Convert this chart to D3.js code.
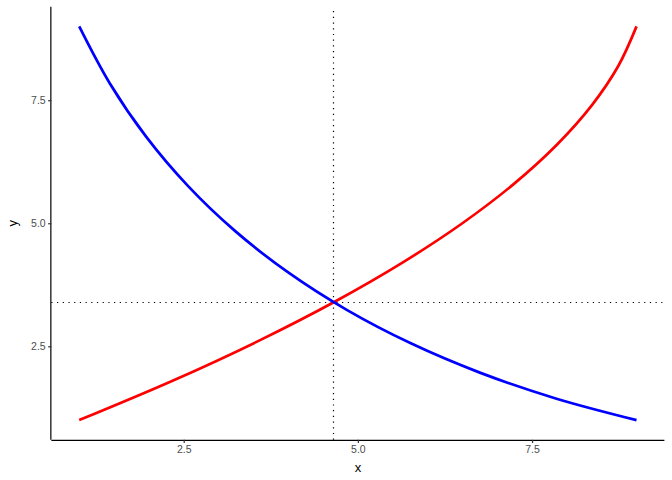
<!DOCTYPE html>
<html>
<head>
<meta charset="utf-8">
<script src="https://cdn.jsdelivr.net/npm/d3@7"></script>
<style>
    body { margin: 0; background: #fff; }
    svg { display: block; font-family: "Liberation Sans", Arial, sans-serif; }
    .axis path.domain { stroke: #000; stroke-width: 1.2px; }
    .axis .tick line { stroke: #333; stroke-width: 1.2px; }
    .axis .tick text { fill: #4d4d4d; font-size: 10.5px; }
    .curve { fill: none; stroke-width: 2.7px; stroke-linejoin: round; }
    .guide { stroke: #000; stroke-width: 1.2px; stroke-dasharray: 1.2, 4.5; }
</style>
</head>
<body>
<div id="chart"></div>
<script>

// supply curve (red)
var supplyX = [1, 2.34, 3.56, 4.66, 5.64, 6.5, 7.24, 7.86, 8.36, 8.74, 9];
var supplyY = [1, 1.8, 2.6, 3.4, 4.2, 5.0, 5.8, 6.6, 7.4, 8.2, 9];

// demand curve (blue)
var demandX = [1, 1.44, 1.96, 2.56, 3.24, 4, 4.84, 5.76, 6.76, 7.84, 9];
var demandY = [9, 7.84, 6.76, 5.76, 4.84, 4, 3.24, 2.56, 1.96, 1.44, 1];

// where the two meet
var crossX = 4.65;
var crossY = 3.39;

var xTicks = [2.5, 5.0, 7.5];
var yTicks = [2.5, 5.0, 7.5];

var width = 672,
    height = 480;

var margin = {top: 6.7, right: 7.6, bottom: 40.2, left: 51.35};

var xScale = d3.scaleLinear()
    .domain([0.6, 9.4])
    .range([margin.left, width - margin.right]);

var yScale = d3.scaleLinear()
    .domain([0.6, 9.4])
    .range([height - margin.bottom, margin.top]);

var svg = d3.select("#chart")
    .append("svg")
    .attr("width", width)
    .attr("height", height);

var xAxis = d3.axisBottom()
    .scale(xScale)
    .tickValues(xTicks)
    .tickSize(3.2)
    .tickPadding(2.5)
    .tickFormat(d3.format(".1f"));

var yAxis = d3.axisLeft()
    .scale(yScale)
    .tickValues(yTicks)
    .tickSize(3.2)
    .tickPadding(2.5)
    .tickFormat(d3.format(".1f"));

svg.append("g")
    .attr("class", "x axis")
    .attr("transform", "translate(0," + (height - margin.bottom) + ")")
    .call(xAxis);

svg.append("g")
    .attr("class", "y axis")
    .attr("transform", "translate(" + margin.left + ",0)")
    .call(yAxis);

// ggplot draws the axis line without the end caps
svg.selectAll(".x.axis path.domain")
    .attr("d", "M" + xScale.range()[0] + ",0.5H" + xScale.range()[1]);
svg.selectAll(".y.axis path.domain")
    .attr("d", "M-0.5," + yScale.range()[0] + "V" + yScale.range()[1]);

function toPoints(xs, ys) {
    return xs.map(function (d, i) { return {x: d, y: ys[i]}; });
}

var line = d3.line()
    .x(function (d) { return xScale(d.x); })
    .y(function (d) { return yScale(d.y); })
    .curve(d3.curveCatmullRom.alpha(0.5));

// dotted guides through the crossing point
svg.append("line")
    .attr("class", "guide")
    .attr("x1", xScale(crossX))
    .attr("x2", xScale(crossX))
    .attr("y1", yScale.range()[0])
    .attr("y2", yScale.range()[1]);

svg.append("line")
    .attr("class", "guide")
    .attr("x1", xScale.range()[0])
    .attr("x2", xScale.range()[1])
    .attr("y1", yScale(crossY))
    .attr("y2", yScale(crossY));

svg.append("path")
    .attr("class", "curve")
    .attr("stroke", "#ff0000")
    .attr("d", line(toPoints(supplyX, supplyY)));

svg.append("path")
    .attr("class", "curve")
    .attr("stroke", "#0000ff")
    .attr("d", line(toPoints(demandX, demandY)));

// axis titles
svg.append("text")
    .attr("x", (xScale.range()[0] + xScale.range()[1]) / 2)
    .attr("y", 472)
    .attr("text-anchor", "middle")
    .style("font-size", "13px")
    .text("x");

svg.append("text")
    .attr("transform", "translate(17," + ((yScale.range()[0] + yScale.range()[1]) / 2) + ") rotate(-90)")
    .attr("text-anchor", "middle")
    .style("font-size", "13px")
    .text("y");

</script>
</body>
</html>
